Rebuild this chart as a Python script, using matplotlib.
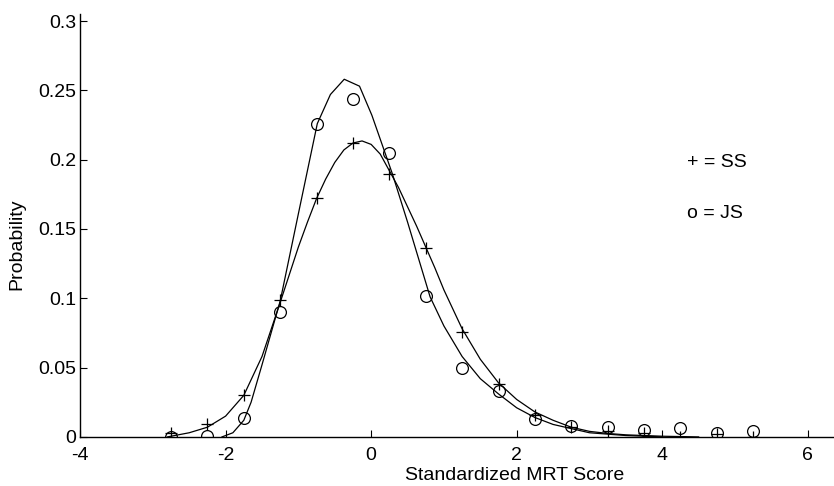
import numpy as np
import matplotlib
matplotlib.use("Agg")
import matplotlib.pyplot as plt

plt.rcParams['font.family'] = ['Liberation Sans', 'DejaVu Sans']
plt.rcParams['axes.unicode_minus'] = False

# observed probabilities at each score bin
score = [-2.75, -2.25, -1.75, -1.25, -0.75, -0.25, 0.25, 0.75, 1.25,
         1.75, 2.25, 2.75, 3.25, 3.75, 4.25, 4.75, 5.25]
ss_obs = [0.003, 0.009, 0.030, 0.099, 0.172, 0.212, 0.190, 0.136, 0.076,
          0.038, 0.016, 0.007, 0.004, 0.003, 0.0, 0.002, 0.0]
js_obs = [0.0, 0.001, 0.014, 0.090, 0.226, 0.244, 0.205, 0.102, 0.050,
          0.033, 0.013, 0.008, 0.007, 0.005, 0.0065, 0.003, 0.004]

# fitted curves
ss_fit_x = [-2.8, -2.5, -2.25, -2.0, -1.75, -1.5, -1.25, -1.125, -1.0, -0.875,
            -0.75, -0.625, -0.5, -0.375, -0.25, -0.125, 0.0, 0.125, 0.25, 0.375,
            0.5, 0.625, 0.75, 0.875, 1.0, 1.125, 1.25, 1.5, 1.75, 2.0,
            2.25, 2.5, 2.75, 3.0, 3.25, 3.5, 4.0, 4.5]
ss_fit_y = [0.0, 0.003, 0.007, 0.015, 0.030, 0.058, 0.097, 0.117, 0.137, 0.155,
            0.172, 0.186, 0.198, 0.207, 0.212, 0.2135, 0.211, 0.204, 0.192, 0.180,
            0.166, 0.152, 0.137, 0.122, 0.106, 0.092, 0.078, 0.056, 0.039, 0.027,
            0.018, 0.012, 0.007, 0.004, 0.0025, 0.0015, 0.0005, 0.0]
js_fit_x = [-2.05, -1.9, -1.75, -1.65, -1.5, -1.25, -1.0, -0.74, -0.56, -0.37,
            -0.16, 0.01, 0.29, 0.5, 0.81, 1.0, 1.25, 1.5, 1.75, 2.0, 2.25,
            2.5, 2.75, 3.0, 3.5, 4.0]
js_fit_y = [0.0, 0.003, 0.012, 0.025, 0.052, 0.098, 0.161, 0.226, 0.247, 0.258,
            0.253, 0.232, 0.190, 0.155, 0.101, 0.080, 0.058, 0.042, 0.031, 0.021,
            0.014, 0.009, 0.006, 0.003, 0.001, 0.0]

xticks = [-4, -2, 0, 2, 4, 6]
yticks = [0, 0.05, 0.1, 0.15, 0.2, 0.25, 0.3]
ytick_labels = ['0', '0.05', '0.1', '0.15', '0.2', '0.25', '0.3']

fig = plt.figure(figsize=(8.34, 4.86), dpi=100)
ax = fig.add_axes([0.096, 0.101, 0.904, 0.870])

ax.plot(ss_fit_x, ss_fit_y, color='black', lw=0.9)
ax.plot(js_fit_x, js_fit_y, color='black', lw=0.9)
ax.plot(score, ss_obs, ls='none', marker='+', ms=8, mew=0.9, color='black')
ax.plot(score, js_obs, ls='none', marker='o', ms=8.5, mew=0.9,
        mfc='none', mec='black')

ax.text(4.34, 0.198, '+ = SS', fontsize=14, va='center')
ax.text(4.34, 0.161, 'o = JS', fontsize=14, va='center')

ax.set_xlim(-4, 6.36)
ax.set_ylim(0, 0.305)
ax.set_xticks(xticks)
ax.set_xticklabels([str(t) for t in xticks])
ax.set_yticks(yticks)
ax.set_yticklabels(ytick_labels)
ax.tick_params(direction='in', length=5, width=0.8, labelsize=14, pad=3)
ax.tick_params(axis='x', pad=7)

for s in ['top', 'right']:
    ax.spines[s].set_visible(False)
ax.spines['left'].set_linewidth(1.0)
ax.spines['bottom'].set_linewidth(1.0)

ax.set_xlabel('Standardized MRT Score', fontsize=14)
ax.xaxis.set_label_coords((515 - 80) / 754, -0.072)
ax.set_ylabel('Probability', fontsize=14)
ax.yaxis.set_label_coords(-0.072, 0.455)

fig.savefig('out.png', dpi=100)
